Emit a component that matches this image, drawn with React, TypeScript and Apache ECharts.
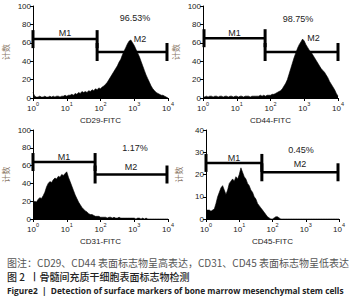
import React, { useEffect, useRef } from "react";
import * as echarts from "echarts";

// log10 bin width of the histogram channels (x = 10^(i*BIN))
const BIN = 0.05;

const cd29Counts = [
  6, 2, 1, 1, 2, 1, 1, 2, 1, 1, 2, 1, 2, 1, 2, 2, 1, 2, 2, 3,
  2, 3, 3, 4, 3, 5, 4, 6, 5, 7, 6, 7, 6, 8, 7, 9, 8, 10, 9, 11,
  10, 12, 13, 15, 17, 20, 23, 26, 29, 32, 35, 39, 42, 47, 51, 55, 59, 62, 63, 60,
  57, 53, 49, 45, 40, 35, 30, 25, 21, 17, 13, 10, 8, 6, 5, 4, 3, 3, 2, 1, 0,
];
const cd44Counts = [
  2, 1, 2, 1, 2, 2, 1, 2, 2, 1, 2, 2, 1, 2, 2, 1, 2, 2, 1, 2,
  2, 1, 2, 2, 1, 2, 2, 2, 1, 2, 2, 2, 2, 2, 3, 2, 3, 2, 3, 3,
  3, 4, 4, 5, 6, 7, 8, 10, 13, 16, 20, 26, 32, 38, 44, 49, 54, 58, 61, 64,
  62, 58, 55, 52, 50, 47, 44, 41, 38, 35, 32, 30, 28, 25, 22, 18, 15, 12, 9, 5, 2,
];
const cd31Counts = [
  18, 20, 19, 22, 24, 23, 26, 30, 36, 40, 42, 41, 44, 46, 45, 48, 47, 50, 49, 51,
  53, 47, 42, 37, 32, 27, 23, 19, 16, 13, 11, 9, 8, 6, 5, 5, 4, 3, 3, 3,
  2, 2, 2, 2, 1, 2, 2, 1, 2, 1, 1, 2, 1, 1, 1, 1, 1, 1, 1, 1,
  1, 0, 1, 1, 0, 1, 0, 1, 0, 0, 0, 0, 0, 0, 0, 0, 0, 0, 0, 0, 0,
];
const cd45Counts = [
  4, 4, 4, 3.5, 4, 4.5, 7, 10, 12, 14, 15, 13, 11, 13, 16, 17, 18, 17, 19, 18,
  20, 23, 21, 19, 18, 16, 15, 13, 12, 10, 9, 7, 6, 5, 4, 3, 2, 1, 0.5, 0,
  0, 0.5, 1, 1, 0.5, 0, 0, 0, 0, 0, 0, 0, 0, 0, 0, 0, 0, 0, 0, 0,
  0, 0, 0, 0, 0, 0, 0, 0, 0, 0, 0, 0, 0, 0, 0, 0, 0, 0, 0, 0, 0,
];

// gates: [startLog, endLog, level]
const cd29Gates = [[0, 1.9, 64], [1.9, 3.97, 50]];
const cd44Gates = [[0.03, 1.84, 65], [1.84, 4.0, 50]];
const cd31Gates = [[0, 1.84, 64], [1.84, 3.97, 50]];
const cd45Gates = [[0, 1.68, 25.2], [1.68, 3.97, 21]];
const gateNames = ["M1", "M2"];

const markers = ["CD29-FITC", "CD44-FITC", "CD31-FITC", "CD45-FITC"];
const positives = ["96.53%", "98.75%", "1.17%", "0.45%"];
const yMaxes = [100, 100, 100, 40];
const yIntervals = [20, 20, 20, 10];

const captionNote = "图注：CD29、CD44 表面标志物呈高表达，CD31、CD45 表面标志物呈低表达";
const captionCn = "图 2  丨骨髓间充质干细胞表面标志物检测";
const captionEn = "Figure2  |  Detection of surface markers of bone marrow mesenchymal stem cells";

const grids = [
  { left: 33, top: 6, width: 135, height: 92 },
  { left: 203, top: 6, width: 135, height: 92 },
  { left: 33, top: 130, width: 135, height: 89 },
  { left: 206, top: 130, width: 133, height: 89 },
];
const labelOffsets = [
  [[0, 6], [8, 13]],
  [[0, 5], [12, 14]],
  [[0, 5], [0, 8]],
  [[0, 5], [0, 8]],
];
const pctPos = [
  [135, 18],
  [298, 19],
  [135, 148],
  [301, 150],
];

const FONT = "Liberation Sans, Arial, sans-serif";

export default function App() {
  const ref = useRef<HTMLDivElement>(null);
  useEffect(() => {
    if (!ref.current) return;
    const chart = echarts.init(ref.current, null, { renderer: "svg" });
    const countsList = [cd29Counts, cd44Counts, cd31Counts, cd45Counts];
    const gatesList = [cd29Gates, cd44Gates, cd31Gates, cd45Gates];

    const xAxes = grids.map((_, i) => ({
      type: "value",
      gridIndex: i,
      min: 0,
      max: 4,
      interval: 1,
      name: markers[i],
      nameLocation: "middle",
      nameGap: 18,
      nameTextStyle: { fontSize: 8, color: "#222", fontFamily: FONT },
      axisLine: { lineStyle: { color: "#000", width: 1 } },
      axisTick: { show: true, length: 3, lineStyle: { color: "#000" } },
      splitLine: { show: false },
      axisLabel: {
        margin: 3,
        formatter: (v: number) => `{b|10}{s|${v}}`,
        rich: {
          b: { fontSize: 8, color: "#222", fontFamily: FONT, lineHeight: 11, verticalAlign: "bottom" },
          s: { fontSize: 5.5, color: "#222", fontFamily: FONT, lineHeight: 7, verticalAlign: "top" },
        },
      },
    }));
    const yAxes = grids.map((_, i) => ({
      type: "value",
      gridIndex: i,
      min: 0,
      max: yMaxes[i],
      interval: yIntervals[i],
      name: "计数",
      nameLocation: "middle",
      nameGap: 24,
      nameRotate: 90,
      nameTextStyle: { fontSize: 8, color: "#8a7868", fontFamily: "Noto Sans CJK SC" },
      axisLine: { show: true, lineStyle: { color: "#000", width: 1 } },
      axisTick: { show: true, length: 3, lineStyle: { color: "#000" } },
      splitLine: { show: false },
      axisLabel: { fontSize: 8, color: "#222", margin: 2, fontFamily: FONT },
    }));

    const histSeries = countsList.map((counts, i) => ({
      type: "line",
      xAxisIndex: i,
      yAxisIndex: i,
      data: counts.map((c, k) => [k * BIN, c]),
      showSymbol: false,
      symbol: "none",
      lineStyle: { color: "#000", width: 0.6 },
      areaStyle: { color: "#000", opacity: 1 },
      silent: true,
    }));

    const gateSeries = gatesList.map((gates, i) => ({
      type: "custom",
      xAxisIndex: i,
      yAxisIndex: i,
      data: gates,
      encode: { x: [0, 1], y: 2 },
      silent: true,
      renderItem: (params: any, api: any) => {
        const x0 = api.value(0);
        const x1 = api.value(1);
        const y = api.value(2);
        const p0 = api.coord([x0, y]);
        const p1 = api.coord([x1, y]);
        const h = 9;
        const off = labelOffsets[i][params.dataIndex];
        return {
          type: "group",
          children: [
            { type: "line", shape: { x1: p0[0], y1: p0[1], x2: p1[0], y2: p1[1] }, style: { stroke: "#000", lineWidth: 2.5 } },
            { type: "line", shape: { x1: p0[0], y1: p0[1] - h, x2: p0[0], y2: p0[1] + h }, style: { stroke: "#000", lineWidth: 3 } },
            { type: "line", shape: { x1: p1[0], y1: p1[1] - h, x2: p1[0], y2: p1[1] + h }, style: { stroke: "#000", lineWidth: 3 } },
            {
              type: "text",
              x: (p0[0] + p1[0]) / 2 + off[0],
              y: p0[1] - off[1],
              style: {
                text: gateNames[params.dataIndex],
                fontSize: 9,
                fill: "#222",
                fontFamily: FONT,
                align: "center",
                verticalAlign: "middle",
              },
            },
          ],
        };
      },
    }));

    const pctGraphics = positives.map((t, i) => ({
      type: "text",
      x: pctPos[i][0],
      y: pctPos[i][1],
      style: { text: t, fontSize: 9, fill: "#222", fontFamily: FONT, align: "center", verticalAlign: "middle" },
    }));

    chart.setOption({
      animation: false,
      backgroundColor: "#fff",
      grid: grids,
      xAxis: xAxes,
      yAxis: yAxes,
      series: [...histSeries, ...gateSeries],
      graphic: [
        ...pctGraphics,
        {
          type: "text",
          x: 7,
          y: 262,
          style: { text: captionNote, fontSize: 10, fill: "#555", fontFamily: "Noto Sans CJK SC", verticalAlign: "middle" },
        },
        {
          type: "text",
          x: 7,
          y: 276,
          style: { text: captionCn, fontSize: 10, fill: "#222", fontWeight: 500, fontFamily: "Noto Sans CJK SC", verticalAlign: "middle" },
        },
        {
          type: "text",
          x: 7,
          y: 290,
          style: { text: captionEn, fontSize: 8.3, fill: "#222", fontWeight: "bold", fontFamily: "Open Sans, Noto Sans, sans-serif", verticalAlign: "middle" },
        },
      ],
    });
    return () => chart.dispose();
  }, []);
  return (
    <div
      ref={ref}
      style={{ position: "absolute", left: 0, top: 0, width: 356, height: 300, background: "#fff" }}
    />
  );
}
